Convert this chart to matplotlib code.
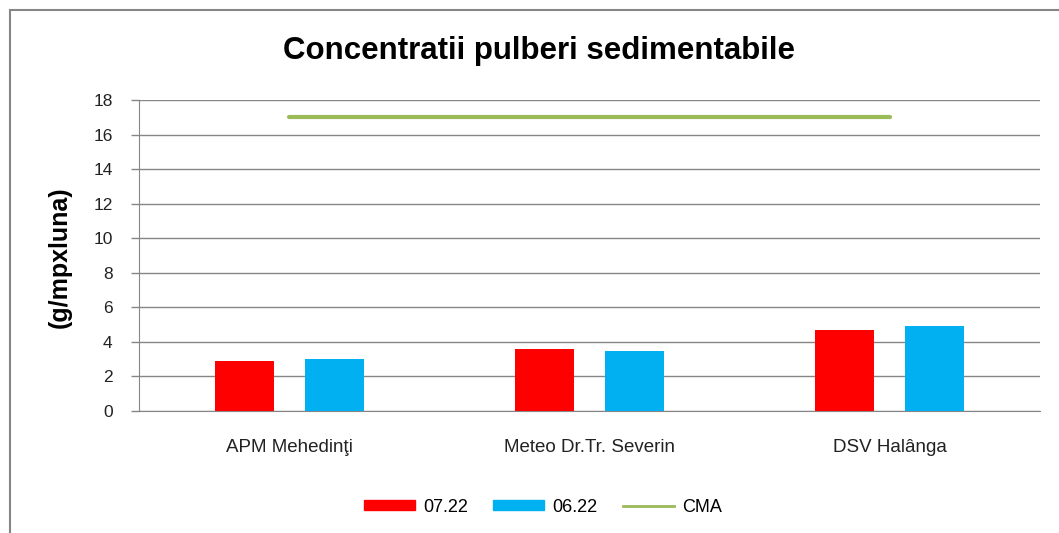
import numpy as np
import matplotlib
matplotlib.use("Agg")
import matplotlib.pyplot as plt
from matplotlib.patches import Rectangle, Patch
from matplotlib.lines import Line2D

plt.rcParams['font.family'] = ['Liberation Sans', 'DejaVu Sans']

# data
stations = ['APM Mehedinţi', 'Meteo Dr.Tr. Severin', 'DSV Halânga']
val_0722 = [2.9, 3.6, 4.7]
val_0622 = [3.0, 3.5, 4.9]
cma = [17, 17, 17]
yticks = [0, 2, 4, 6, 8, 10, 12, 14, 16, 18]

c_red, c_blue, c_green = '#FF0000', '#00B0F0', '#9BBB59'

fig = plt.figure(figsize=(10.59, 5.33), dpi=100)
ax = fig.add_axes([139 / 1059, 1 - 411 / 533, 901 / 1059, 311 / 533])

# outer chart border
fig.patches.append(Rectangle((10 / 1059, -0.05), 1.1, 1 - 10 / 533 + 0.05,
                             transform=fig.transFigure, fill=False,
                             edgecolor='#868686', linewidth=1.5))

x = np.arange(len(stations))
w = 0.197
ax.bar(x - 0.15, val_0722, w, color=c_red, zorder=3)
ax.bar(x + 0.15, val_0622, w, color=c_blue, zorder=3)
ax.plot(x, cma, color=c_green, linewidth=3, zorder=4, solid_capstyle='round')

ax.set_xlim(-0.5, 2.5)
ax.set_ylim(0, 18)
ax.set_yticks(yticks)
ax.set_xticks(x)
ax.set_xticklabels(stations)
ax.tick_params(axis='x', length=0, pad=20, labelsize=13.5)
ax.tick_params(axis='y', length=6, width=1, color='#868686', labelsize=12.5, pad=13)
for lbl in ax.get_xticklabels() + ax.get_yticklabels():
    lbl.set_color('#222222')

ax.grid(axis='y', color='#868686', linewidth=1, zorder=0)
for side in ['top', 'right']:
    ax.spines[side].set_visible(False)
ax.spines['left'].set_color('#868686')
ax.spines['bottom'].set_color('#868686')

fig.text(60 / 1059, 1 - 257 / 533, '(g/mpxluna)', rotation=90, ha='center',
         va='center', fontsize=18, fontweight='bold')
fig.text(539 / 1059, 1 - 51 / 533, 'Concentratii pulberi sedimentabile',
         ha='center', va='center', fontsize=22.5, fontweight='bold')

handles = [Patch(color=c_red), Patch(color=c_blue),
           Line2D([], [], color=c_green, linewidth=2)]
fig.legend(handles, ['07.22', '06.22', 'CMA'], loc='center',
           bbox_to_anchor=(543 / 1059, 1 - 507 / 533), ncol=3,
           frameon=False, fontsize=13, handlelength=2.83, handleheight=0.45,
           columnspacing=1.4, handletextpad=0.45)

fig.savefig('out.png', dpi=100)
